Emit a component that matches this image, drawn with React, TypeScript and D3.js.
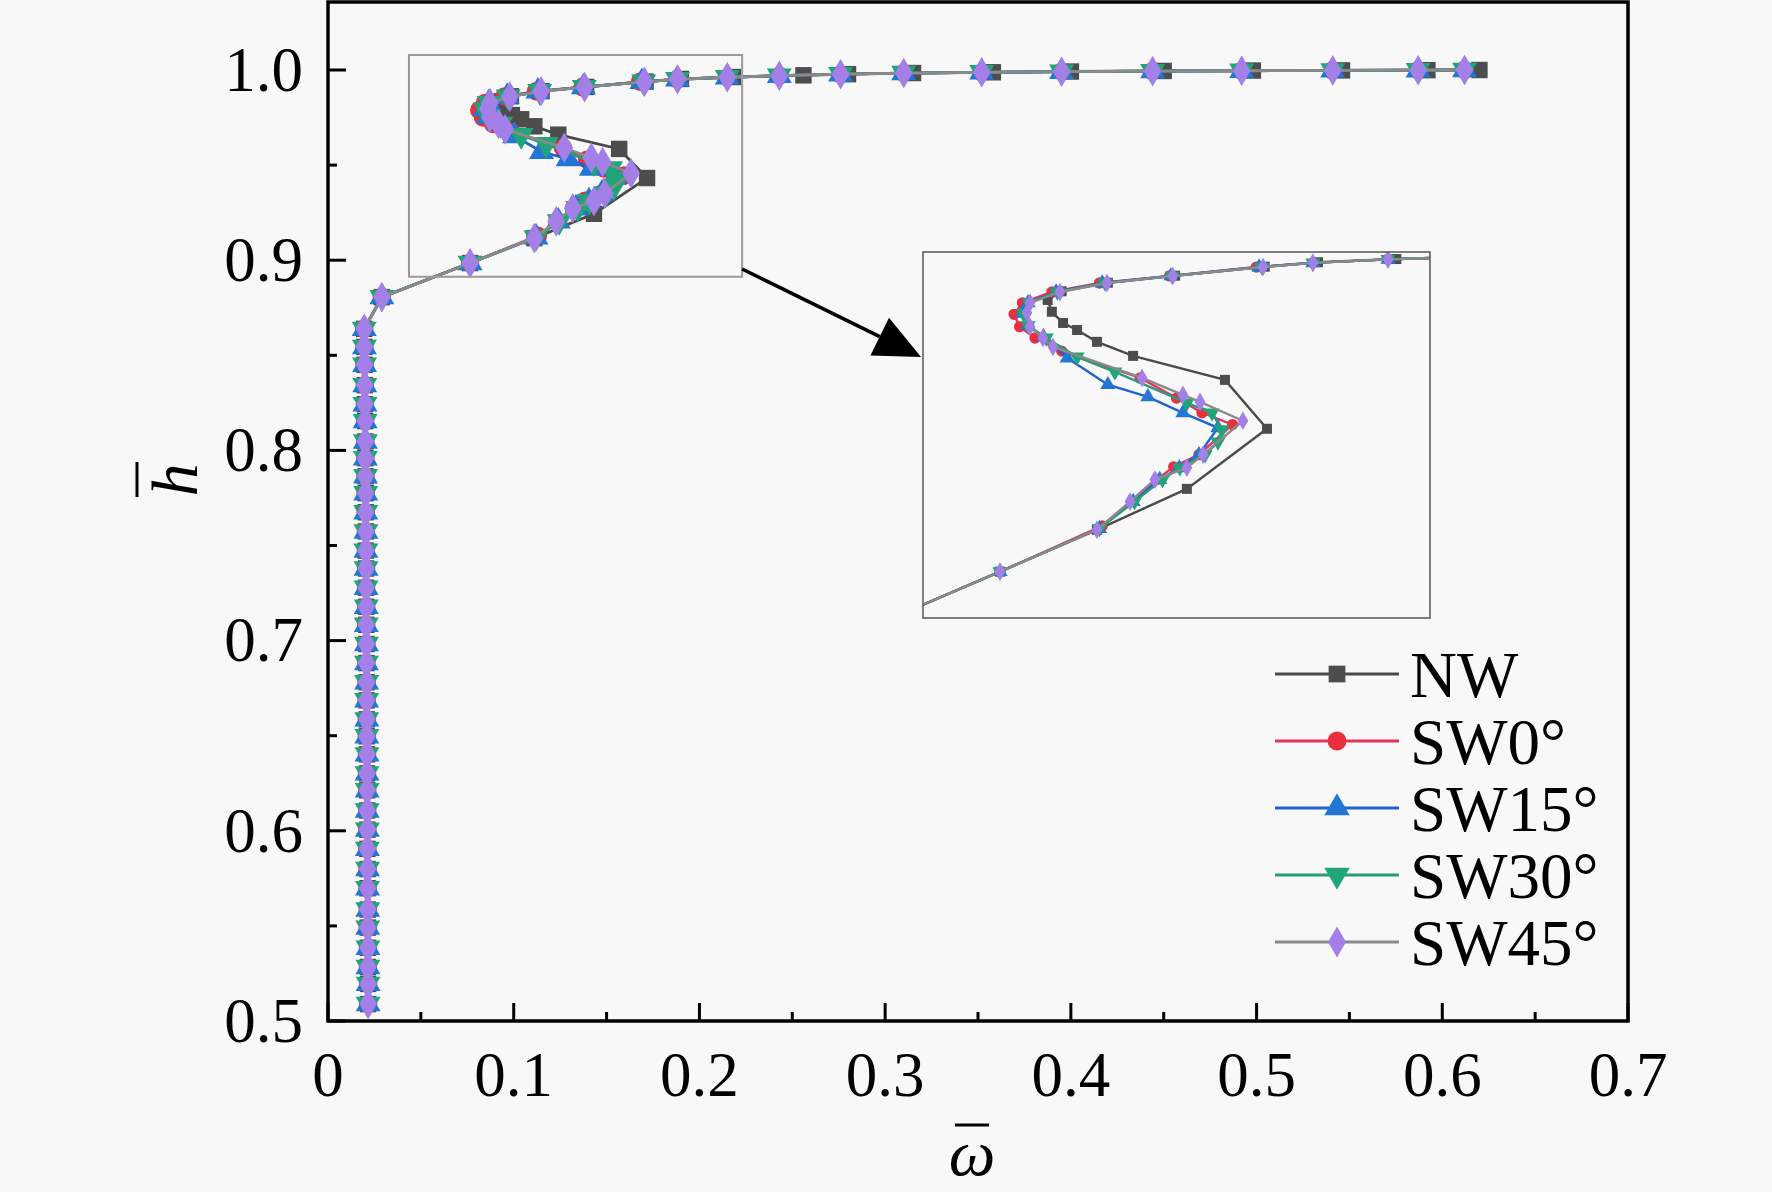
import { useEffect, useRef } from "react";
import * as d3 from "d3";

// ---- data ----
const xTickValues = [0, 0.1, 0.2, 0.3, 0.4, 0.5, 0.6, 0.7];
const yTickValues = [0.5, 0.6, 0.7, 0.8, 0.9, 1.0];
const xMinorTicks = [0.05, 0.15, 0.25, 0.35, 0.45, 0.55, 0.65];
const yMinorTicks = [0.55, 0.65, 0.75, 0.85, 0.95];

const seriesNames = ["NW", "SW0°", "SW15°", "SW30°", "SW45°"];

// near-wall part of the profile, identical for all cases
const wallH = [
  0.5089, 0.5195, 0.5284, 0.5385, 0.5491, 0.5586, 0.5698, 0.5799, 0.5905,
  0.6006, 0.6107, 0.6213, 0.6302, 0.6402, 0.6497, 0.6586, 0.6686, 0.6781,
  0.6882, 0.6982, 0.7083, 0.7178, 0.7278, 0.7379, 0.7473, 0.7574, 0.7675,
  0.7775, 0.7864, 0.7959, 0.8047, 0.8154, 0.8243, 0.8343, 0.845, 0.8544,
  0.8639,
];
const wallOmega = [
  0.0216, 0.0216, 0.0215, 0.0215, 0.0214, 0.0214, 0.0213, 0.0213, 0.0212,
  0.0212, 0.0211, 0.0211, 0.021, 0.021, 0.0209, 0.0209, 0.0208, 0.0208,
  0.0207, 0.0207, 0.0206, 0.0206, 0.0205, 0.0205, 0.0204, 0.0204, 0.0203,
  0.0203, 0.0202, 0.0201, 0.0201, 0.02, 0.0199, 0.0198, 0.0197, 0.0196,
  0.0195,
];

// upper part (omega, h)
const nwUpper: [number, number][] = [
  [0.029, 0.8806], [0.0765, 0.8985], [0.1111, 0.9116], [0.1432, 0.9244],
  [0.1718, 0.9432], [0.1568, 0.9585], [0.124, 0.966], [0.1111, 0.9704],
  [0.104, 0.9741], [0.099, 0.9763], [0.095, 0.9798], [0.0935, 0.9835],
  [0.0985, 0.9862], [0.115, 0.9889], [0.139, 0.9911], [0.171, 0.9939],
  [0.19, 0.9953], [0.218, 0.9963], [0.256, 0.9972], [0.28, 0.9978],
  [0.315, 0.9984], [0.358, 0.9988], [0.4, 0.9992], [0.45, 0.9995],
  [0.498, 0.9997], [0.546, 0.9998], [0.592, 0.9999], [0.62, 1.0],
];
const sw0Upper: [number, number][] = [
  [0.029, 0.8806], [0.0765, 0.8985], [0.113, 0.9128], [0.1235, 0.9204],
  [0.1325, 0.9273], [0.1385, 0.9313], [0.1475, 0.9351], [0.1595, 0.9445],
  [0.1486, 0.9482], [0.1395, 0.9528], [0.1265, 0.9591], [0.0985, 0.9675],
  [0.089, 0.9716], [0.0835, 0.9751], [0.0815, 0.979], [0.0845, 0.9826],
  [0.095, 0.986], [0.112, 0.9888], [0.137, 0.991], [0.168, 0.9938],
  [0.1882, 0.9951],
];
const sw15Upper: [number, number][] = [
  [0.029, 0.8806], [0.0765, 0.8985], [0.112, 0.912], [0.124, 0.9204],
  [0.1335, 0.9273], [0.1405, 0.931], [0.1475, 0.9351], [0.1543, 0.9435],
  [0.1418, 0.9482], [0.1293, 0.9532], [0.115, 0.957], [0.1005, 0.9653],
  [0.092, 0.972], [0.0865, 0.9755], [0.0845, 0.9793], [0.0865, 0.9826],
  [0.0965, 0.986], [0.113, 0.9888], [0.1375, 0.991], [0.169, 0.9938],
  [0.1882, 0.9951],
];
const sw30Upper: [number, number][] = [
  [0.029, 0.8806], [0.0765, 0.8985], [0.112, 0.912], [0.1245, 0.9204],
  [0.1345, 0.9273], [0.1407, 0.931], [0.1497, 0.9351], [0.1543, 0.9391],
  [0.1557, 0.9429], [0.1522, 0.9482], [0.1432, 0.9513], [0.1175, 0.961],
  [0.104, 0.9657], [0.093, 0.9716], [0.0865, 0.9755], [0.0848, 0.9793],
  [0.0868, 0.9826], [0.097, 0.986], [0.114, 0.9888], [0.138, 0.991],
  [0.17, 0.9938], [0.1882, 0.9951],
];
const sw45Upper: [number, number][] = [
  [0.029, 0.8806], [0.0765, 0.8985], [0.1111, 0.9116], [0.1229, 0.9204],
  [0.1318, 0.9273], [0.1432, 0.931], [0.149, 0.9351], [0.1632, 0.9457],
  [0.1479, 0.9516], [0.1418, 0.9538], [0.1272, 0.9591], [0.0954, 0.9688],
  [0.0918, 0.9716], [0.0872, 0.9751], [0.0861, 0.9795], [0.0872, 0.9826],
  [0.0979, 0.986], [0.1147, 0.9888], [0.1382, 0.991], [0.1704, 0.9938],
  [0.1882, 0.9951],
];
// free-stream part shared by the swirl cases
const swTop: [number, number][] = [
  [0.215, 0.9962], [0.243, 0.997], [0.276, 0.9978], [0.31, 0.9984],
  [0.352, 0.9988], [0.395, 0.9991], [0.444, 0.9994], [0.492, 0.9996],
  [0.541, 0.9998], [0.587, 0.9999], [0.612, 1.0],
];

// zoomed window (data units) and inset ranges
const zoomOmega = [0.0436, 0.223];
const zoomH = [0.8913, 1.0079];
const insetOmega = [0.049, 0.23];
const insetH = [0.884, 0.9985];

const colors = ["#4a4a4a", "#e8335a", "#1f63d0", "#2a9a78", "#8a8a8a"];
const markerColors = ["#4d4d4d", "#e8303e", "#2277d6", "#20a57a", "#a47fe8"];
const symbols = [
  d3.symbolSquare,
  d3.symbolCircle,
  d3.symbolTriangle,
  d3.symbolTriangle,
  d3.symbolDiamond,
];

function App() {
  const ref = useRef<SVGSVGElement>(null);

  useEffect(() => {
    if (!ref.current) return;
    const svg = d3.select(ref.current);
    svg.selectAll("*").remove();

    const W = 1772;
    const H = 1192;
    const left = 328, right = 1628, top = 2, bottom = 1021;
    const font = "'Liberation Serif', 'Times New Roman', serif";

    const wall: [number, number][] = wallH.map((h, i) => [wallOmega[i], h]);
    const series: [number, number][][] = [
      [...wall, ...nwUpper],
      [...wall, ...sw0Upper, ...swTop],
      [...wall, ...sw15Upper, ...swTop],
      [...wall, ...sw30Upper, ...swTop],
      [...wall, ...sw45Upper, ...swTop],
    ];

    svg.append("rect").attr("width", W).attr("height", H).attr("fill", "#f8f8f8");

    const x = d3.scaleLinear().domain([0, 0.7]).range([left, right]);
    const y = d3
      .scaleLinear()
      .domain([0.5, 1.0])
      .range([bottom, 70]);

    const defs = svg.append("defs");
    defs
      .append("clipPath")
      .attr("id", "main-clip")
      .append("rect")
      .attr("x", left)
      .attr("y", top)
      .attr("width", right - left)
      .attr("height", bottom - top);

    // 画曲线
    const drawSeries = (
      g: d3.Selection<SVGGElement, unknown, null, undefined>,
      sx: d3.ScaleLinear<number, number>,
      sy: d3.ScaleLinear<number, number>,
      lineW: number,
      markerArea: number
    ) => {
      series.forEach((pts, i) => {
        const line = d3
          .line<[number, number]>()
          .x((d) => sx(d[0]))
          .y((d) => sy(d[1]));
        g.append("path")
          .attr("d", line(pts))
          .attr("fill", "none")
          .attr("stroke", colors[i])
          .attr("stroke-width", lineW);
        const sym = d3.symbol().type(symbols[i]).size(markerArea);
        g.selectAll(null)
          .data(pts)
          .enter()
          .append("path")
          .attr("d", sym)
          .attr(
            "transform",
            (d) =>
              `translate(${sx(d[0])},${sy(d[1])})${i === 3 ? " rotate(180)" : ""}`
          )
          .attr("fill", markerColors[i]);
      });
    };

    const plot = svg.append("g").attr("clip-path", "url(#main-clip)");
    drawSeries(plot, x, y, 2.8, 270);

    // zoom window
    svg
      .append("rect")
      .attr("x", x(zoomOmega[0]))
      .attr("y", y(zoomH[1]))
      .attr("width", x(zoomOmega[1]) - x(zoomOmega[0]))
      .attr("height", y(zoomH[0]) - y(zoomH[1]))
      .attr("fill", "none")
      .attr("stroke", "#9a9a9a")
      .attr("stroke-width", 2);

    // inset
    const ix0 = 923, ix1 = 1430, iy0 = 252, iy1 = 618;
    const ix = d3.scaleLinear().domain(insetOmega).range([ix0, ix1]);
    const iy = d3.scaleLinear().domain(insetH).range([iy1, iy0]);
    defs
      .append("clipPath")
      .attr("id", "inset-clip")
      .append("rect")
      .attr("x", ix0)
      .attr("y", iy0)
      .attr("width", ix1 - ix0)
      .attr("height", iy1 - iy0);
    svg
      .append("rect")
      .attr("x", ix0)
      .attr("y", iy0)
      .attr("width", ix1 - ix0)
      .attr("height", iy1 - iy0)
      .attr("fill", "#f8f8f8");
    const inset = svg.append("g").attr("clip-path", "url(#inset-clip)");
    drawSeries(inset, ix, iy, 2.4, 100);
    svg
      .append("rect")
      .attr("x", ix0)
      .attr("y", iy0)
      .attr("width", ix1 - ix0)
      .attr("height", iy1 - iy0)
      .attr("fill", "none")
      .attr("stroke", "#555")
      .attr("stroke-width", 1.5);

    // arrow
    const ax0 = x(zoomOmega[1]), ay0 = 269;
    const ax1 = 921, ay1 = 357;
    const ang = Math.atan2(ay1 - ay0, ax1 - ax0);
    const headL = 46, headW = 21;
    const bx = ax1 - headL * Math.cos(ang), by = ay1 - headL * Math.sin(ang);
    svg
      .append("line")
      .attr("x1", ax0)
      .attr("y1", ay0)
      .attr("x2", bx)
      .attr("y2", by)
      .attr("stroke", "#000")
      .attr("stroke-width", 3.5);
    svg
      .append("path")
      .attr(
        "d",
        `M${ax1},${ay1}L${bx - headW * Math.sin(ang)},${by + headW * Math.cos(ang)}L${bx + headW * Math.sin(ang)},${by - headW * Math.cos(ang)}Z`
      )
      .attr("fill", "#000");

    // frame
    svg
      .append("rect")
      .attr("x", left)
      .attr("y", top)
      .attr("width", right - left)
      .attr("height", bottom - top)
      .attr("fill", "none")
      .attr("stroke", "#000")
      .attr("stroke-width", 3.5);

    // ticks
    const axisG = svg.append("g").attr("stroke", "#000").attr("stroke-width", 3);
    xTickValues.forEach((v) =>
      axisG.append("line").attr("x1", x(v)).attr("x2", x(v)).attr("y1", bottom).attr("y2", bottom - 18)
    );
    xMinorTicks.forEach((v) =>
      axisG.append("line").attr("x1", x(v)).attr("x2", x(v)).attr("y1", bottom).attr("y2", bottom - 9)
    );
    yTickValues.forEach((v) =>
      axisG.append("line").attr("x1", left).attr("x2", left + 18).attr("y1", y(v)).attr("y2", y(v))
    );
    yMinorTicks.forEach((v) =>
      axisG.append("line").attr("x1", left).attr("x2", left + 9).attr("y1", y(v)).attr("y2", y(v))
    );

    svg
      .selectAll(".xt")
      .data(xTickValues)
      .enter()
      .append("text")
      .attr("x", (d) => x(d))
      .attr("y", 1096)
      .attr("text-anchor", "middle")
      .style("font-family", font)
      .style("font-size", "63px")
      .text((d) => (d === 0 ? "0" : d.toFixed(1)));
    svg
      .selectAll(".yt")
      .data(yTickValues)
      .enter()
      .append("text")
      .attr("x", 303)
      .attr("y", (d) => y(d))
      .attr("dy", "0.33em")
      .attr("text-anchor", "end")
      .style("font-family", font)
      .style("font-size", "63px")
      .text((d) => d.toFixed(1));

    // axis titles
    svg
      .append("text")
      .attr("transform", "translate(197,480) rotate(-90)")
      .attr("text-anchor", "middle")
      .style("font-family", font)
      .style("font-style", "italic")
      .style("font-size", "66px")
      .text("h");
    svg
      .append("line")
      .attr("x1", 137)
      .attr("x2", 137)
      .attr("y1", 462)
      .attr("y2", 497)
      .attr("stroke", "#000")
      .attr("stroke-width", 3);
    svg
      .append("text")
      .attr("x", 972)
      .attr("y", 1175)
      .attr("text-anchor", "middle")
      .style("font-family", font)
      .style("font-style", "italic")
      .style("font-size", "66px")
      .text("ω");
    svg
      .append("line")
      .attr("x1", 955)
      .attr("x2", 989)
      .attr("y1", 1125)
      .attr("y2", 1125)
      .attr("stroke", "#000")
      .attr("stroke-width", 3);

    // legend
    const lg = svg.append("g");
    seriesNames.forEach((name, i) => {
      const ly = 674 + i * 67;
      lg.append("line")
        .attr("x1", 1275)
        .attr("x2", 1399)
        .attr("y1", ly)
        .attr("y2", ly)
        .attr("stroke", colors[i])
        .attr("stroke-width", 3);
      lg.append("path")
        .attr("d", d3.symbol().type(symbols[i]).size(280)())
        .attr("transform", `translate(1337,${ly})${i === 3 ? " rotate(180)" : ""}`)
        .attr("fill", markerColors[i]);
      lg.append("text")
        .attr("x", 1410)
        .attr("y", ly)
        .attr("dy", "0.35em")
        .style("font-family", font)
        .style("font-size", "65px")
        .text(name);
    });
  }, []);

  return (
    <svg
      ref={ref}
      width={1772}
      height={1192}
      style={{ position: "absolute", left: 0, top: 0 }}
    />
  );
}

export default App;
